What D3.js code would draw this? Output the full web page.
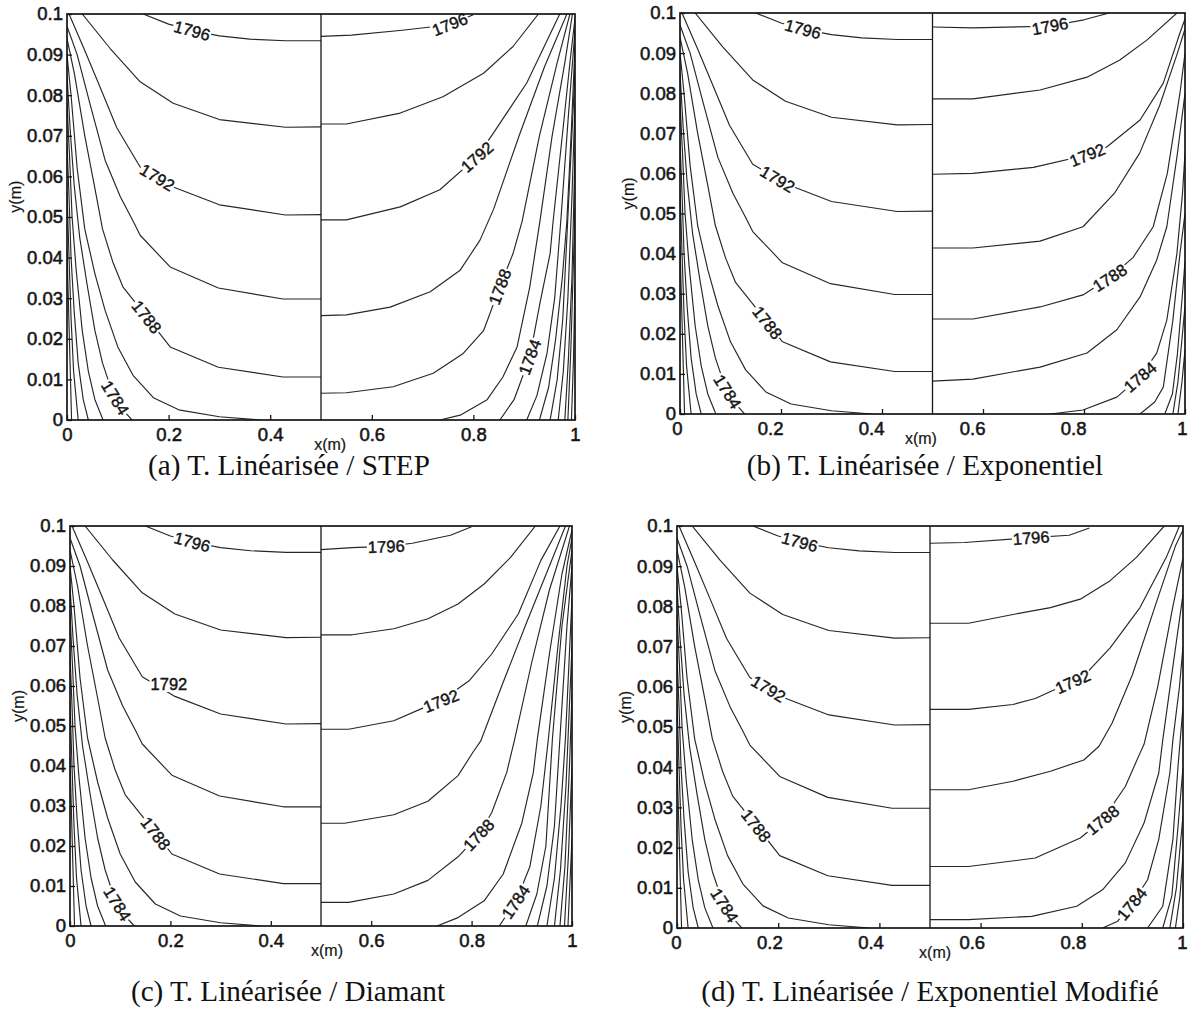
<!DOCTYPE html>
<html><head><meta charset="utf-8">
<script src="https://cdn.jsdelivr.net/npm/d3@7"></script>
<style>body{margin:0;background:#fff}svg{display:block}</style>
</head><body>
<svg id="chart" width="1189" height="1014"></svg>
<script>
// ---------------- DATA ----------------
const xTicks = [0, 0.2, 0.4, 0.6, 0.8, 1];
const yTicks = [0, 0.01, 0.02, 0.03, 0.04, 0.05, 0.06, 0.07, 0.08, 0.09, 0.1];
const captions = [
  "(a) T. Linéarisée / STEP",
  "(b) T. Linéarisée / Exponentiel",
  "(c) T. Linéarisée / Diamant",
  "(d) T. Linéarisée / Exponentiel Modifié"
];

// Left half (x in 0..0.5), identical in the four cases: [level, points]
const leftHalf = [
  [1796, [[0.15,0.1],[0.2,0.0975],[0.25,0.0958],[0.3,0.0946],[0.36,0.0938],[0.43,0.0934],[0.5,0.0934]]],
  [1794, [[0.03,0.1],[0.085,0.0915],[0.144,0.0833],[0.209,0.078],[0.3,0.074],[0.43,0.0721],[0.5,0.0722]]],
  [1792, [[0.004,0.1],[0.035,0.091],[0.065,0.082],[0.098,0.072],[0.144,0.0623],[0.209,0.0574],[0.3,0.053],[0.43,0.0505],[0.5,0.0506]]],
  [1790, [[0,0.097],[0.02,0.09],[0.045,0.078],[0.075,0.064],[0.105,0.055],[0.13,0.049],[0.144,0.0455],[0.203,0.0377],[0.298,0.0325],[0.425,0.0298],[0.5,0.0298]]],
  [1788, [[0,0.094],[0.015,0.085],[0.035,0.07],[0.055,0.057],[0.07,0.047],[0.09,0.039],[0.11,0.0328],[0.157,0.0254],[0.203,0.018],[0.298,0.013],[0.425,0.0106],[0.5,0.0106]]],
  [1786, [[0,0.09],[0.008,0.08],[0.02,0.062],[0.035,0.047],[0.055,0.036],[0.075,0.027],[0.1,0.018],[0.13,0.011],[0.17,0.0055],[0.22,0.0025],[0.3,0.0008],[0.38,0]]],
  [1784, [[0,0.085],[0.006,0.072],[0.014,0.058],[0.025,0.045],[0.04,0.033],[0.055,0.022],[0.07,0.014],[0.09,0.0065],[0.11,0.0025],[0.128,0]]],
  [1782, [[0,0.078],[0.005,0.065],[0.01,0.05],[0.018,0.037],[0.03,0.022],[0.042,0.012],[0.055,0.005],[0.071,0]]],
  [1780, [[0,0.068],[0.004,0.055],[0.008,0.04],[0.014,0.027],[0.022,0.014],[0.032,0.005],[0.042,0]]],
  [1778, [[0,0.056],[0.004,0.04],[0.008,0.025],[0.013,0.012],[0.022,0]]],
  [1776, [[0,0.042],[0.003,0.028],[0.006,0.014],[0.009,0]]]
];

// Right halves (x in 0.5..1), one per case
const rightA = [
  [1796, [[0.5,0.0945],[0.56,0.0948],[0.66,0.096],[0.75,0.0973],[0.8,0.0998]]],
  [1794, [[0.5,0.0729],[0.55,0.0729],[0.656,0.0756],[0.74,0.0796],[0.82,0.0854],[0.878,0.092],[0.928,0.1]]],
  [1792, [[0.5,0.0493],[0.55,0.0493],[0.656,0.0525],[0.734,0.0567],[0.807,0.0648],[0.839,0.0706],[0.905,0.083],[0.97,0.1]]],
  [1790, [[0.5,0.0257],[0.55,0.0259],[0.636,0.0278],[0.715,0.0316],[0.774,0.0369],[0.813,0.0443],[0.84,0.052],[0.89,0.07],[0.94,0.087],[0.984,0.1]]],
  [1788, [[0.5,0.0066],[0.55,0.0067],[0.642,0.0082],[0.721,0.0115],[0.78,0.0164],[0.82,0.022],[0.852,0.0328],[0.878,0.041],[0.896,0.049],[0.93,0.07],[0.965,0.088],[0.99,0.1]]],
  [1786, [[0.734,0],[0.774,0.0012],[0.827,0.005],[0.858,0.0106],[0.886,0.018],[0.911,0.0328],[0.931,0.049],[0.955,0.07],[0.98,0.088],[0.995,0.1]]],
  [1784, [[0.852,0],[0.88,0.005],[0.911,0.0155],[0.931,0.0288],[0.951,0.041],[0.957,0.049],[0.975,0.07],[0.99,0.088],[1.0,0.099]]],
  [1782, [[0.905,0],[0.925,0.006],[0.945,0.0165],[0.96,0.03],[0.972,0.049],[0.987,0.075],[1.0,0.096]]],
  [1780, [[0.93,0],[0.948,0.008],[0.962,0.02],[0.975,0.035],[0.984,0.049],[0.993,0.072],[1.0,0.092]]],
  [1778, [[0.951,0],[0.965,0.01],[0.976,0.025],[0.986,0.05],[1.0,0.086]]],
  [1776, [[0.967,0],[0.977,0.012],[0.986,0.03],[0.994,0.055],[1.0,0.078]]],
  [1774, [[0.98,0],[0.987,0.015],[0.994,0.035],[1.0,0.066]]],
  [1772, [[0.986,0],[0.992,0.018],[1.0,0.052]]],
  [1770, [[0.993,0],[0.997,0.015],[1.0,0.034]]]
];
const rightB = [
  [1796, [[0.5,0.0965],[0.58,0.0963],[0.73,0.0967],[0.8,0.0983],[0.85,0.1]]],
  [1794, [[0.5,0.0786],[0.58,0.0786],[0.713,0.0808],[0.806,0.084],[0.871,0.0883],[0.925,0.0933],[0.984,0.1]]],
  [1792, [[0.5,0.0598],[0.58,0.06],[0.7,0.0615],[0.806,0.0646],[0.845,0.0666],[0.911,0.0733],[0.957,0.0825],[0.99,0.095],[1.0,0.0985]]],
  [1790, [[0.5,0.0414],[0.58,0.0414],[0.713,0.0431],[0.798,0.0467],[0.86,0.055],[0.91,0.065],[0.95,0.077],[0.985,0.09],[1.0,0.096]]],
  [1788, [[0.5,0.0237],[0.58,0.0237],[0.713,0.0267],[0.798,0.0297],[0.851,0.034],[0.897,0.039],[0.937,0.0467],[0.965,0.06],[0.99,0.08],[1.0,0.09]]],
  [1786, [[0.5,0.0082],[0.58,0.0087],[0.713,0.0117],[0.806,0.0152],[0.865,0.021],[0.911,0.0292],[0.944,0.0384],[0.964,0.0467],[0.985,0.065],[1.0,0.08]]],
  [1784, [[0.733,0],[0.798,0.001],[0.865,0.0042],[0.911,0.0092],[0.944,0.0152],[0.964,0.0234],[0.984,0.04],[0.995,0.055],[1.0,0.065]]],
  [1782, [[0.911,0],[0.94,0.003],[0.957,0.0067],[0.976,0.0234],[0.99,0.04],[1.0,0.05]]],
  [1780, [[0.96,0],[0.975,0.005],[0.985,0.015],[0.995,0.03],[1.0,0.038]]],
  [1778, [[0.976,0],[0.986,0.008],[0.995,0.02],[1.0,0.027]]],
  [1776, [[0.986,0],[0.994,0.008],[1.0,0.016]]]
];
const rightC = [
  [1796, [[0.5,0.0941],[0.562,0.0946],[0.63,0.0949],[0.682,0.0957],[0.758,0.0977],[0.8,0.0998]]],
  [1794, [[0.5,0.0728],[0.562,0.0728],[0.645,0.0743],[0.713,0.0768],[0.773,0.0805],[0.825,0.0855],[0.878,0.0922],[0.927,0.1]]],
  [1792, [[0.5,0.0492],[0.555,0.0492],[0.645,0.0513],[0.705,0.0546],[0.739,0.0563],[0.795,0.0613],[0.84,0.068],[0.893,0.078],[0.938,0.0914],[0.976,0.1]]],
  [1790, [[0.5,0.0257],[0.547,0.0257],[0.645,0.0278],[0.713,0.0312],[0.773,0.0376],[0.803,0.0435],[0.818,0.0462],[0.86,0.06],[0.91,0.076],[0.955,0.09],[0.987,0.1]]],
  [1788, [[0.5,0.0059],[0.555,0.0059],[0.645,0.008],[0.713,0.0114],[0.773,0.0173],[0.814,0.0228],[0.84,0.0283],[0.87,0.0384],[0.886,0.0468],[0.92,0.066],[0.955,0.084],[0.995,0.1]]],
  [1786, [[0.731,0],[0.773,0.0021],[0.825,0.0063],[0.863,0.013],[0.9,0.0257],[0.923,0.0384],[0.931,0.0468],[0.955,0.068],[0.98,0.088],[1.0,0.099]]],
  [1784, [[0.855,0],[0.889,0.0063],[0.916,0.0148],[0.938,0.03],[0.953,0.0468],[0.972,0.07],[0.99,0.09],[1.0,0.097]]],
  [1782, [[0.908,0],[0.93,0.008],[0.948,0.02],[0.961,0.0468],[0.98,0.075],[1.0,0.094]]],
  [1780, [[0.931,0],[0.95,0.01],[0.965,0.025],[0.976,0.047],[0.99,0.075],[1.0,0.09]]],
  [1778, [[0.95,0],[0.965,0.012],[0.978,0.03],[0.987,0.047],[1.0,0.082]]],
  [1776, [[0.965,0],[0.977,0.014],[0.988,0.035],[1.0,0.07]]],
  [1774, [[0.976,0],[0.986,0.015],[0.995,0.04],[1.0,0.058]]],
  [1772, [[0.985,0],[0.993,0.018],[1.0,0.04]]],
  [1770, [[0.992,0],[1.0,0.022]]]
];
const rightD = [
  [1796, [[0.5,0.0957],[0.568,0.0959],[0.7,0.0971],[0.775,0.0977],[0.815,0.0995]]],
  [1794, [[0.5,0.0758],[0.576,0.0758],[0.664,0.078],[0.738,0.0797],[0.797,0.0818],[0.856,0.0864],[0.908,0.0922],[0.963,0.1]]],
  [1792, [[0.5,0.0544],[0.576,0.0544],[0.664,0.0556],[0.708,0.0571],[0.782,0.0613],[0.812,0.0638],[0.856,0.0697],[0.915,0.0797],[0.967,0.0922],[0.993,0.1]]],
  [1790, [[0.5,0.0344],[0.576,0.0344],[0.664,0.0365],[0.738,0.039],[0.804,0.0418],[0.834,0.0452],[0.86,0.051],[0.9,0.063],[0.95,0.082],[0.985,0.095],[1.0,0.099]]],
  [1788, [[0.5,0.0153],[0.576,0.0153],[0.708,0.0174],[0.797,0.0224],[0.841,0.0269],[0.886,0.0352],[0.915,0.0435],[0.923,0.0457],[0.95,0.06],[0.98,0.08],[1.0,0.092]]],
  [1786, [[0.5,0.0021],[0.576,0.0021],[0.701,0.0029],[0.79,0.0054],[0.841,0.0095],[0.886,0.0162],[0.923,0.0261],[0.952,0.0385],[0.96,0.0468],[0.98,0.065],[1.0,0.083]]],
  [1784, [[0.841,0],[0.871,0.0017],[0.9,0.0062],[0.93,0.012],[0.952,0.022],[0.974,0.0385],[0.98,0.0468],[0.993,0.06],[1.0,0.07]]],
  [1782, [[0.93,0],[0.96,0.0054],[0.98,0.022],[0.99,0.04],[1.0,0.055]]],
  [1780, [[0.96,0],[0.978,0.008],[0.99,0.025],[1.0,0.04]]],
  [1778, [[0.974,0],[0.987,0.01],[1.0,0.028]]],
  [1776, [[0.985,0],[0.994,0.008],[1.0,0.018]]]
];

// Contour labels: [level, half, x, y, flat]
const labelsA = [[1796,"L",0.246,0.0958,false],[1792,"L",0.183,0.0608,false],[1788,"L",0.157,0.0254,false],[1784,"L",0.098,0.0057,false],
                 [1796,"R",0.754,0.0973,false],[1792,"R",0.807,0.0648,false],[1788,"R",0.852,0.0328,false],[1784,"R",0.911,0.0155,false]];
const labelsB = [[1796,"L",0.244,0.0963,false],[1792,"L",0.198,0.0596,false],[1788,"L",0.172,0.0227,false],[1784,"L",0.093,0.0055,false],
                 [1796,"R",0.733,0.0965,false],[1792,"R",0.806,0.0648,false],[1788,"R",0.851,0.034,false],[1784,"R",0.911,0.0092,false]];
const labelsC = [[1796,"L",0.242,0.0954,false],[1792,"L",0.197,0.0605,true],[1788,"L",0.171,0.0232,false],[1784,"L",0.099,0.0059,false],
                 [1796,"R",0.63,0.0949,false],[1792,"R",0.739,0.0563,false],[1788,"R",0.814,0.0228,false],[1784,"R",0.885,0.0063,false]];
const labelsD = [[1796,"L",0.244,0.0968,false],[1792,"L",0.185,0.0604,false],[1788,"L",0.155,0.0253,false],[1784,"L",0.096,0.0058,false],
                 [1796,"R",0.70,0.0971,false],[1792,"R",0.782,0.0613,false],[1788,"R",0.841,0.0269,false],[1784,"R",0.897,0.0062,false]];

const rightHalves = [rightA, rightB, rightC, rightD];
const labelSets = [labelsA, labelsB, labelsC, labelsD];

// ---------------- LAYOUT ----------------
const boxes = [
  {l:67,  r:575,  t:14,  b:420, capX:289, capY:475, xLab:0.518},
  {l:680, r:1185, t:13,  b:414, capX:925, capY:475, xLab:0.477},
  {l:70,  r:572,  t:526, b:926, capX:288, capY:1001, xLab:0.512},
  {l:677, r:1183, t:526, b:928, capX:930, capY:1001, xLab:0.51}
];
const tickFont = "'Liberation Sans', Arial, Helvetica, sans-serif";
const capFont = "'Liberation Serif', 'DejaVu Serif', serif";
const ink = "#151515";

const svg = d3.select("#chart");
svg.append("rect").attr("width",1189).attr("height",1014).attr("fill","#fff");

boxes.forEach((B, i) => {
  const xs = d3.scaleLinear().domain([0,1]).range([B.l, B.r]);
  const ys = d3.scaleLinear().domain([0,0.1]).range([B.b, B.t]);
  const g = svg.append("g");
  const clipId = "clip"+i;
  svg.append("clipPath").attr("id", clipId).append("rect")
    .attr("x", B.l).attr("y", B.t).attr("width", B.r-B.l).attr("height", B.b-B.t);

  const line = d3.line().x(d => xs(d[0])).y(d => ys(d[1]));
  const cg = g.append("g").attr("clip-path", `url(#${clipId})`);
  const halves = {L: leftHalf, R: rightHalves[i]};
  ["L","R"].forEach(h => {
    cg.selectAll(null).data(halves[h]).enter().append("path")
      .attr("d", d => line(d[1]))
      .attr("fill","none").attr("stroke","#262626").attr("stroke-width",1.15)
      .attr("stroke-linejoin","round");
  });

  // middle separation line
  g.append("line").attr("x1", xs(0.5)).attr("x2", xs(0.5)).attr("y1", ys(0)).attr("y2", ys(0.1))
    .attr("stroke", ink).attr("stroke-width", 1.3);

  // contour labels
  labelSets[i].forEach(([lev, h, lx, ly, flat]) => {
    const c = halves[h].find(d => d[0] === lev);
    const P = c[1].map(p => [xs(p[0]), ys(p[1])]);
    const tx = xs(lx), ty = ys(ly);
    let best = null;
    for (let k = 0; k < P.length-1; k++) {
      const [x1,y1] = P[k], [x2,y2] = P[k+1];
      const dx = x2-x1, dy = y2-y1, L2 = dx*dx+dy*dy || 1;
      let t = ((tx-x1)*dx + (ty-y1)*dy)/L2; t = Math.max(0, Math.min(1, t));
      const px = x1+t*dx, py = y1+t*dy, dd = (px-tx)**2+(py-ty)**2;
      if (!best || dd < best.dd) best = {dd, px, py, ang: Math.atan2(dy,dx)*180/Math.PI};
    }
    let ang = flat ? 0 : best.ang;
    if (ang > 90) ang -= 180; if (ang < -90) ang += 180;
    const cx = flat ? tx : best.px, cy = flat ? ty : best.py;
    const lg = g.append("g").attr("transform", `translate(${cx},${cy}) rotate(${ang})`);
    const bg = lg.append("rect").attr("fill","#fff");
    const t = lg.append("text").text(lev).attr("text-anchor","middle").attr("dy","0.36em")
      .attr("font-family", tickFont).attr("font-size", 16.5).attr("fill", ink)
      .attr("stroke", ink).attr("stroke-width", 0.45);
    const bb = t.node().getBBox();
    bg.attr("x", bb.x-1).attr("y", bb.y+1).attr("width", bb.width+2).attr("height", bb.height-2);
  });

  // box
  g.append("rect").attr("x", B.l).attr("y", B.t).attr("width", B.r-B.l).attr("height", B.b-B.t)
    .attr("fill","none").attr("stroke", ink).attr("stroke-width", 1.7);

  // axes with inward ticks
  const xAxis = d3.axisBottom(xs).tickValues(xTicks).tickSizeInner(-5).tickSizeOuter(0)
    .tickPadding(8).tickFormat(d => d3.format("~g")(d));
  const yAxis = d3.axisLeft(ys).tickValues(yTicks).tickSizeInner(-5).tickSizeOuter(0)
    .tickPadding(4).tickFormat(d => d === 0 ? "0" : d3.format("~g")(+d.toFixed(2)));
  const gx = g.append("g").attr("transform", `translate(0,${B.b})`).call(xAxis);
  const gy = g.append("g").attr("transform", `translate(${B.l},0)`).call(yAxis);
  [gx, gy].forEach(a => {
    a.select(".domain").remove();
    a.selectAll("line").attr("stroke", ink).attr("stroke-width", 1.3);
    a.selectAll("text").attr("font-family", tickFont).attr("font-size", 18.5)
      .attr("fill", ink).attr("stroke", ink).attr("stroke-width", 0.55);
  });
  // keep the last x tick label inside the page
  gx.selectAll("text").each(function() {
    const bb = this.getBBox();
    const right = B.r + bb.x + bb.width;
    if (right > 1187) d3.select(this).attr("dx", (1187 - right) + "px");
  });

  // axis titles
  g.append("text").text("x(m)").attr("x", xs(B.xLab)).attr("y", B.b + 30)
    .attr("text-anchor","middle").attr("font-family", tickFont).attr("font-size", 16).attr("fill", ink)
    .attr("stroke", ink).attr("stroke-width", 0.2);
  g.append("text").text("y(m)")
    .attr("transform", `translate(${B.l-46},${ys(0.055)}) rotate(-90)`)
    .attr("text-anchor","middle").attr("font-family", tickFont).attr("font-size", 16).attr("fill", ink)
    .attr("stroke", ink).attr("stroke-width", 0.2);

  // caption
  g.append("text").attr("class","cap").text(captions[i]).attr("x", B.capX).attr("y", B.capY)
    .attr("text-anchor","middle").attr("font-family", capFont).attr("font-size", 20).attr("fill", "#111");
});

// fit caption font size so caption (a) spans the same width as in the source
const capNodes = svg.selectAll("text.cap").nodes();
const w0 = capNodes[0].getComputedTextLength();
const fs = 20 * 282 / w0;
svg.selectAll("text.cap").attr("font-size", fs);
</script>
</body></html>
